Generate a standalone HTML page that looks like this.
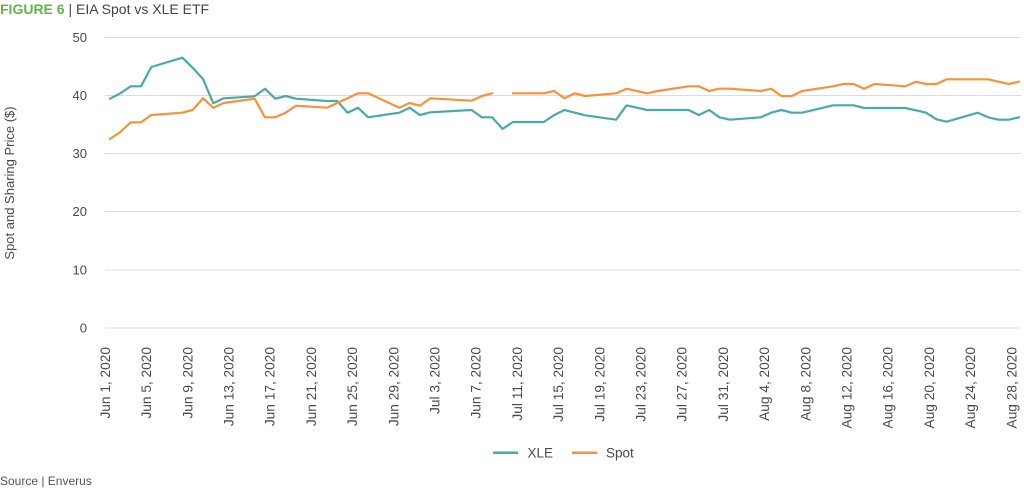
<!DOCTYPE html>
<html>
<head>
<meta charset="utf-8">
<style>
  html,body{margin:0;padding:0;background:#fff;}
  body{width:1024px;height:488px;overflow:hidden;}
  svg{display:block;font-family:"Liberation Sans",Arial,sans-serif;}
</style>
</head>
<body>
<svg width="1024" height="488" viewBox="0 0 1024 488" xmlns="http://www.w3.org/2000/svg">
  <!-- Title -->
  <text x="0" y="14" font-size="14" fill="#444"><tspan font-weight="bold" fill="#62b447">FIGURE 6</tspan> | EIA Spot vs XLE ETF</text>

  <!-- Gridlines -->
  <g stroke="#dcdcdc" stroke-width="1">
    <line x1="105" y1="37.5" x2="1021" y2="37.5"/>
    <line x1="105" y1="95.5" x2="1021" y2="95.5"/>
    <line x1="105" y1="153.5" x2="1021" y2="153.5"/>
    <line x1="105" y1="211.5" x2="1021" y2="211.5"/>
    <line x1="105" y1="270" x2="1021" y2="270"/>
    <line x1="105" y1="328" x2="1021" y2="328"/>
  </g>

  <!-- Y tick labels -->
  <g font-size="13" fill="#4a4a4a" text-anchor="end">
    <text x="87" y="42">50</text>
    <text x="87" y="100">40</text>
    <text x="87" y="158">30</text>
    <text x="87" y="216">20</text>
    <text x="87" y="274.5">10</text>
    <text x="87" y="332.5">0</text>
  </g>

  <!-- Y axis title -->
  <text transform="translate(14,183) rotate(-90)" font-size="13" fill="#4a4a4a" text-anchor="middle">Spot and Sharing Price ($)</text>

  <!-- X tick labels -->
  <g font-size="13.7" fill="#4a4a4a" text-anchor="end">
    <text transform="translate(109.9,347) rotate(-90)">Jun 1, 2020</text>
    <text transform="translate(151.1,347) rotate(-90)">Jun 5, 2020</text>
    <text transform="translate(192.3,347) rotate(-90)">Jun 9, 2020</text>
    <text transform="translate(233.5,347) rotate(-90)">Jun 13, 2020</text>
    <text transform="translate(274.7,347) rotate(-90)">Jun 17, 2020</text>
    <text transform="translate(315.9,347) rotate(-90)">Jun 21, 2020</text>
    <text transform="translate(357.1,347) rotate(-90)">Jun 25, 2020</text>
    <text transform="translate(398.3,347) rotate(-90)">Jun 29, 2020</text>
    <text transform="translate(439.5,347) rotate(-90)">Jul 3, 2020</text>
    <text transform="translate(480.7,347) rotate(-90)">Jun 7, 2020</text>
    <text transform="translate(521.9,347) rotate(-90)">Jul 11, 2020</text>
    <text transform="translate(563.1,347) rotate(-90)">Jul 15, 2020</text>
    <text transform="translate(604.3,347) rotate(-90)">Jul 19, 2020</text>
    <text transform="translate(645.5,347) rotate(-90)">Jul 23, 2020</text>
    <text transform="translate(686.7,347) rotate(-90)">Jul 27, 2020</text>
    <text transform="translate(727.9,347) rotate(-90)">Jul 31, 2020</text>
    <text transform="translate(769.1,347) rotate(-90)">Aug 4, 2020</text>
    <text transform="translate(810.3,347) rotate(-90)">Aug 8, 2020</text>
    <text transform="translate(851.5,347) rotate(-90)">Aug 12, 2020</text>
    <text transform="translate(892.7,347) rotate(-90)">Aug 16, 2020</text>
    <text transform="translate(933.9,347) rotate(-90)">Aug 20, 2020</text>
    <text transform="translate(975.1,347) rotate(-90)">Aug 24, 2020</text>
    <text transform="translate(1016.3,347) rotate(-90)">Aug 28, 2020</text>
  </g>

  <!-- XLE series -->
  <polyline fill="none" stroke="#4aaaa5" stroke-width="2.2" stroke-linejoin="round" stroke-linecap="round"
    points="110,98.7 120.33,93.3 130.66,86.3 140.99,86.3 151.32,67 182.31,57.7 192.64,67.7 202.97,79 213.3,103.3 223.63,98.3 254.62,96.3 264.95,88.7 275.28,98.7 285.61,96 295.94,98.7 326.93,101 337.26,101 347.59,112.7 357.92,107.7 368.25,117.3 399.24,112.7 409.57,107.7 419.9,115 430.23,112.3 471.55,110 481.88,117.3 492.21,117.3 502.54,129 512.87,122 543.86,122 554.19,115 564.52,110 574.85,112.7 585.18,115.3 616.17,119.7 626.5,105.3 636.83,107.7 647.16,110 657.49,110 688.48,110 698.81,115 709.14,110 719.47,117.3 729.8,119.7 760.79,117.3 771.12,112.7 781.45,110 791.78,112.7 802.11,112.7 833.1,105.3 843.43,105.3 853.76,105.3 864.09,108 874.42,108 905.41,108 915.74,110.3 926.07,112.7 936.4,119.3 946.73,121.7 977.72,112.7 988.05,117.3 998.38,119.7 1008.71,119.7 1019.04,117.3"/>

  <!-- Spot series (with gap) -->
  <polyline fill="none" stroke="#f7923a" stroke-width="2.2" stroke-linejoin="round" stroke-linecap="round"
    points="110,139 120.33,132 130.66,122.3 140.99,122.3 151.32,115 182.31,112.7 192.64,110 202.97,98.3 213.3,107.7 223.63,103 254.62,98.7 264.95,117.3 275.28,117.3 285.61,112.7 295.94,105.7 326.93,107.7 337.26,103 347.59,98.2 357.92,93.3 368.25,93.3 399.24,107.7 409.57,103 419.9,105.7 430.23,98.3 471.55,100.7 481.88,96 492.21,93.3"/>
  <polyline fill="none" stroke="#f7923a" stroke-width="2.2" stroke-linejoin="round" stroke-linecap="round"
    points="512.87,93.3 543.86,93.3 554.19,91 564.52,98.3 574.85,93.3 585.18,96 616.17,93.3 626.5,88.7 636.83,91 647.16,93.3 657.49,91 688.48,86.3 698.81,86.3 709.14,91 719.47,88.7 729.8,88.7 760.79,91 771.12,88.7 781.45,96 791.78,96 802.11,91 833.1,86.3 843.43,84 853.76,84 864.09,88.7 874.42,84 905.41,86.3 915.74,81.7 926.07,84 936.4,84 946.73,79.3 977.72,79.3 988.05,79.3 998.38,81.7 1008.71,84 1019.04,81.7"/>

  <!-- Legend -->
  <line x1="493" y1="452.7" x2="518" y2="452.7" stroke="#4aaaa5" stroke-width="2.5"/>
  <text x="527.5" y="457.5" font-size="13.5" fill="#4a4a4a">XLE</text>
  <line x1="572" y1="452.7" x2="597" y2="452.7" stroke="#f7923a" stroke-width="2.5"/>
  <text x="606" y="457.5" font-size="13.5" fill="#4a4a4a">Spot</text>

  <!-- Source -->
  <text x="0" y="485" font-size="12" fill="#555">Source | Enverus</text>
</svg>
</body>
</html>
